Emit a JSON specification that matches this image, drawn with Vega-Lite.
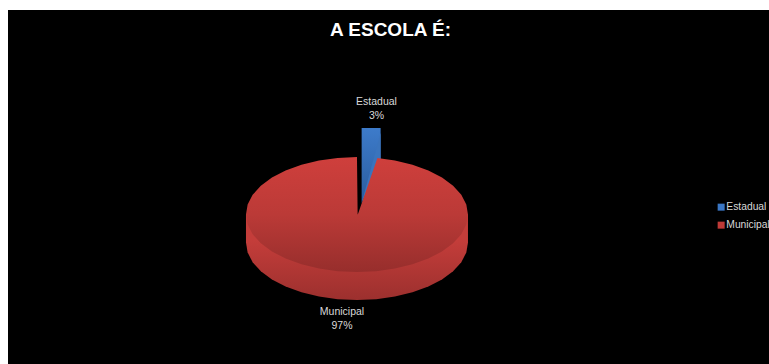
{
  "$schema": "https://vega.github.io/schema/vega-lite/v6.json",
  "width": 761,
  "height": 354,
  "autosize": {"type": "none"},
  "padding": {"left": 8, "top": 10, "right": 0, "bottom": 0},
  "background": "#ffffff",
  "title": {
    "text": "A ESCOLA É:",
    "anchor": "middle",
    "frame": "group",
    "orient": "top",
    "offset": 0,
    "dx": 2,
    "dy": 45,
    "baseline": "alphabetic",
    "font": "Liberation Sans",
    "fontSize": 19,
    "fontWeight": "bold",
    "color": "#ffffff"
  },
  "config": {
    "view": {"fill": "#000000", "stroke": null}
  },
  "datasets": {
    "fatias": [
      {"parte": "Estadual", "percentual": 3, "rotulo": "Estadual\n3%", "x": 0.176, "y": 1.964},
      {"parte": "Municipal", "percentual": 97, "rotulo": "Municipal\n97%", "x": -0.135, "y": -1.703}
    ],
    "parede": [
      {"ordem": 1, "x": -1, "y": 0},
      {"ordem": 2, "x": -1, "y": -0.487},
      {"ordem": 3, "x": -0.985, "y": -0.661},
      {"ordem": 4, "x": -0.94, "y": -0.829},
      {"ordem": 5, "x": -0.866, "y": -0.987},
      {"ordem": 6, "x": -0.766, "y": -1.13},
      {"ordem": 7, "x": -0.643, "y": -1.253},
      {"ordem": 8, "x": -0.5, "y": -1.353},
      {"ordem": 9, "x": -0.342, "y": -1.427},
      {"ordem": 10, "x": -0.174, "y": -1.472},
      {"ordem": 11, "x": 0, "y": -1.487},
      {"ordem": 12, "x": 0.174, "y": -1.472},
      {"ordem": 13, "x": 0.342, "y": -1.427},
      {"ordem": 14, "x": 0.5, "y": -1.353},
      {"ordem": 15, "x": 0.643, "y": -1.253},
      {"ordem": 16, "x": 0.766, "y": -1.13},
      {"ordem": 17, "x": 0.866, "y": -0.987},
      {"ordem": 18, "x": 0.94, "y": -0.829},
      {"ordem": 19, "x": 0.985, "y": -0.661},
      {"ordem": 20, "x": 1, "y": -0.487},
      {"ordem": 21, "x": 1, "y": 0}
    ],
    "topo": [
      {"ordem": 1, "x": 0.006, "y": -0.01},
      {"ordem": 2, "x": 0.184, "y": 0.983},
      {"ordem": 3, "x": 0.342, "y": 0.94},
      {"ordem": 4, "x": 0.5, "y": 0.866},
      {"ordem": 5, "x": 0.643, "y": 0.766},
      {"ordem": 6, "x": 0.766, "y": 0.643},
      {"ordem": 7, "x": 0.866, "y": 0.5},
      {"ordem": 8, "x": 0.94, "y": 0.342},
      {"ordem": 9, "x": 0.985, "y": 0.174},
      {"ordem": 10, "x": 1, "y": 0},
      {"ordem": 11, "x": 0.985, "y": -0.174},
      {"ordem": 12, "x": 0.94, "y": -0.342},
      {"ordem": 13, "x": 0.866, "y": -0.5},
      {"ordem": 14, "x": 0.766, "y": -0.643},
      {"ordem": 15, "x": 0.643, "y": -0.766},
      {"ordem": 16, "x": 0.5, "y": -0.866},
      {"ordem": 17, "x": 0.342, "y": -0.94},
      {"ordem": 18, "x": 0.174, "y": -0.985},
      {"ordem": 19, "x": 0, "y": -1},
      {"ordem": 20, "x": -0.174, "y": -0.985},
      {"ordem": 21, "x": -0.342, "y": -0.94},
      {"ordem": 22, "x": -0.5, "y": -0.866},
      {"ordem": 23, "x": -0.643, "y": -0.766},
      {"ordem": 24, "x": -0.766, "y": -0.643},
      {"ordem": 25, "x": -0.866, "y": -0.5},
      {"ordem": 26, "x": -0.94, "y": -0.342},
      {"ordem": 27, "x": -0.985, "y": -0.174},
      {"ordem": 28, "x": -1, "y": 0},
      {"ordem": 29, "x": -0.985, "y": 0.174},
      {"ordem": 30, "x": -0.94, "y": 0.342},
      {"ordem": 31, "x": -0.866, "y": 0.5},
      {"ordem": 32, "x": -0.766, "y": 0.643},
      {"ordem": 33, "x": -0.643, "y": 0.766},
      {"ordem": 34, "x": -0.5, "y": 0.866},
      {"ordem": 35, "x": -0.342, "y": 0.94},
      {"ordem": 36, "x": -0.174, "y": 0.985},
      {"ordem": 37, "x": 0, "y": 1}
    ],
    "destacada": [
      {"ordem": 1, "x": 0.042, "y": 1.504},
      {"ordem": 2, "x": 0.213, "y": 1.504},
      {"ordem": 3, "x": 0.213, "y": 0.96},
      {"ordem": 4, "x": 0.042, "y": 0.2}
    ],
    "destacadaFace": [
      {"ordem": 1, "x": 0.042, "y": 0.2},
      {"ordem": 2, "x": 0.213, "y": 1.42},
      {"ordem": 3, "x": 0.213, "y": 0.96}
    ]
  },
  "encoding": {
    "x": {"field": "x", "type": "quantitative", "axis": null, "scale": {"domain": [-3.144, 3.712], "nice": false, "zero": false}},
    "y": {"field": "y", "type": "quantitative", "axis": null, "scale": {"domain": [-2.6, 3.557], "nice": false, "zero": false}},
    "order": {"field": "ordem", "type": "quantitative"}
  },
  "layer": [
    {
      "data": {"name": "destacada"},
      "mark": {
        "type": "line", "strokeWidth": 0,
        "fill": {"gradient": "linear", "x1": 0, "y1": 0, "x2": 0, "y2": 1, "stops": [
          {"offset": 0, "color": "#3d7bca"},
          {"offset": 1, "color": "#2a5c9e"}
        ]}
      }
    },
    {
      "data": {"name": "destacadaFace"},
      "mark": {"type": "line", "strokeWidth": 0, "fill": "#3a74bd"}
    },
    {
      "data": {"name": "parede"},
      "mark": {
        "type": "line", "strokeWidth": 0,
        "fill": {"gradient": "linear", "x1": 0, "y1": 0, "x2": 0, "y2": 1, "stops": [
          {"offset": 0.3, "color": "#c43d3a"},
          {"offset": 1, "color": "#9c302e"}
        ]}
      }
    },
    {
      "data": {"name": "topo"},
      "mark": {
        "type": "line", "strokeWidth": 0,
        "fill": {"gradient": "linear", "x1": 0, "y1": 0, "x2": 0, "y2": 1, "stops": [
          {"offset": 0, "color": "#cf3f3c"},
          {"offset": 0.5, "color": "#bb3a37"},
          {"offset": 1, "color": "#972e2c"}
        ]}
      }
    },
    {
      "data": {"name": "fatias"},
      "mark": {"type": "text", "lineBreak": "\n", "lineHeight": 14, "font": "Liberation Sans", "fontSize": 10.5, "color": "#d9d9d9"},
      "encoding": {"text": {"field": "rotulo"}, "order": {"value": null}}
    },
    {
      "data": {"name": "fatias"},
      "mark": {"type": "point", "filled": true, "size": 0},
      "encoding": {
        "order": {"value": null},
        "color": {
          "field": "parte",
          "type": "nominal",
          "scale": {"domain": ["Estadual", "Municipal"], "range": ["#3a76c4", "#be3a37"]},
          "legend": {
            "orient": "none",
            "legendX": 708,
            "legendY": 192,
            "title": null,
            "symbolType": "square",
            "symbolSize": 49,
            "symbolStrokeWidth": 0,
            "symbolOpacity": 1,
            "labelColor": "#d9d9d9",
            "labelFont": "Liberation Sans",
            "labelFontSize": 10.3,
            "labelOffset": 0,
            "labelLimit": 80,
            "rowPadding": 7
          }
        }
      }
    }
  ]
}
